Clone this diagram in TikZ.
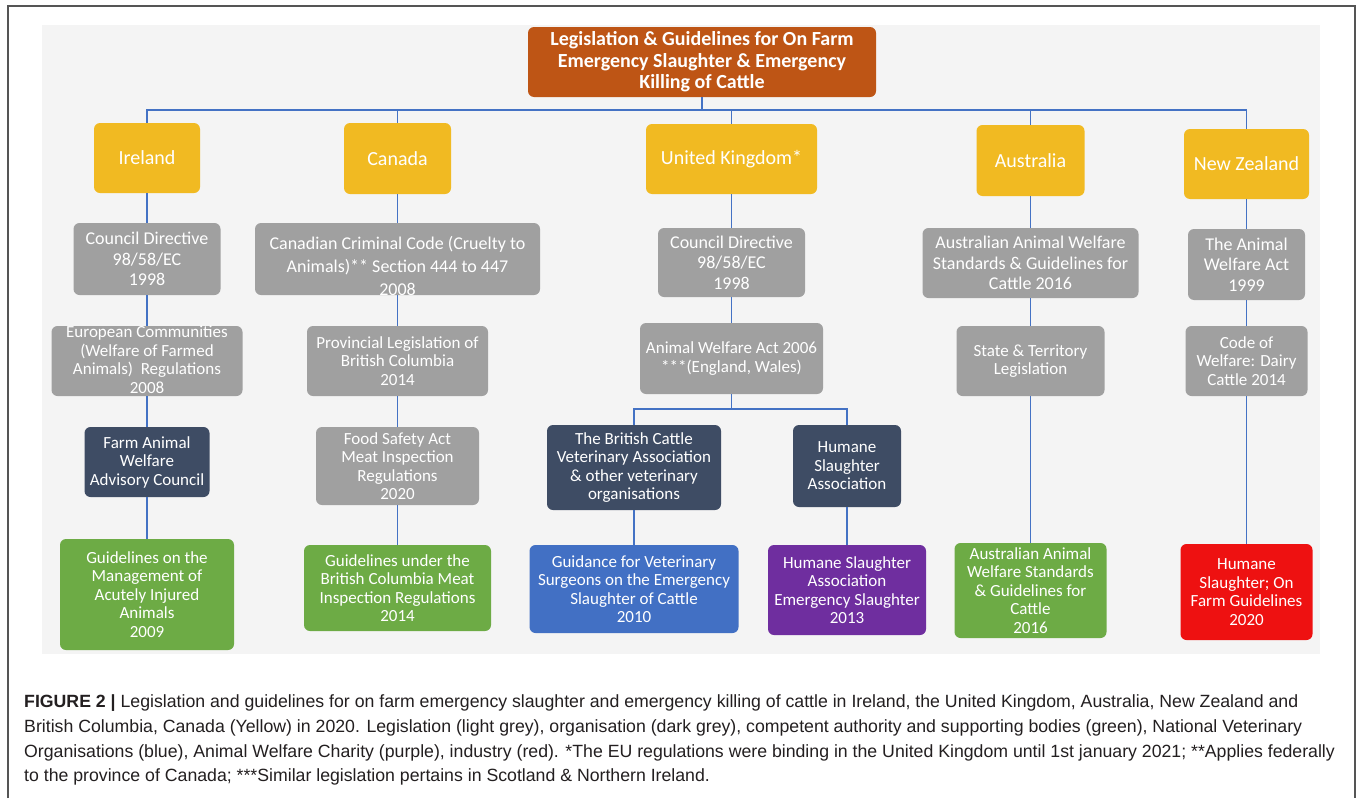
\documentclass[tikz,border=0pt]{standalone}
\usepackage{fontspec}
\setmainfont{Carlito}
\newfontfamily\capfont{Liberation Sans}
\definecolor{panelbg}{HTML}{F4F4F4}
\definecolor{frameC}{HTML}{555555}
\definecolor{titleC}{HTML}{BE5515}
\definecolor{yellowC}{HTML}{F1BA22}
\definecolor{greyC}{HTML}{A0A0A0}
\definecolor{darkC}{HTML}{3E4C64}
\definecolor{greenC}{HTML}{6DAB45}
\definecolor{blueC}{HTML}{4270C4}
\definecolor{purpleC}{HTML}{6F2E9F}
\definecolor{redC}{HTML}{EE1111}
\definecolor{lineC}{HTML}{4472C4}
\definecolor{capC}{HTML}{231F20}
\newcommand\mybox[3]{\parbox[c][#2][c]{#1}{\centering #3\par}}
\tikzset{
  basebox/.style={rounded corners=6pt, inner sep=0pt, text=white},
  titlebox/.style={basebox, fill=titleC, font=\fontsize{20}{21.5}\selectfont\bfseries},
  country/.style={basebox, fill=yellowC, font=\fontsize{20}{22}\selectfont},
  legA/.style={basebox, fill=greyC, font=\fontsize{18}{20.5}\selectfont},
  leg/.style={basebox, fill=greyC, font=\fontsize{17}{18.5}\selectfont},
  org/.style={basebox, fill=darkC, font=\fontsize{17}{18.5}\selectfont},
  green/.style={basebox, fill=greenC, font=\fontsize{17}{18.5}\selectfont},
  vet/.style={basebox, fill=blueC, font=\fontsize{17}{18.5}\selectfont},
  charity/.style={basebox, fill=purpleC, font=\fontsize{17}{18.5}\selectfont},
  industry/.style={basebox, fill=redC, font=\fontsize{17}{18.5}\selectfont},
  conn/.style={draw=lineC, line width=1.2pt},
}
\begin{document}
\begin{tikzpicture}[x=1pt, y=-1pt]
\useasboundingbox (0,0) rectangle (1357,798);
\fill[white] (0,0) rectangle (1357,798);
\fill[panelbg] (42,25) rectangle (1320,654);
\draw[frameC, line width=1.5pt] (8,798) -- (8,6) -- (1355,6) -- (1355,798);

% title
\node[titlebox] (title) at (702,62) {\mybox{348pt}{70pt}{Legislation \& Guidelines for On Farm\\Emergency Slaughter \& Emergency\\Killing of Cattle}};

% countries
\node[country] (ire) at (147,158) {\mybox{106pt}{70pt}{Ireland}};
\node[country] (can) at (397.5,158.5) {\mybox{107pt}{71pt}{Canada}};
\node[country] (uk) at (731.5,159) {\mybox{171pt}{70pt}{United Kingdom*}};
\node[country] (aus) at (1030.5,160.5) {\mybox{108pt}{71pt}{Australia}};
\node[country] (nz) at (1246.5,164) {\mybox{125pt}{70pt}{New Zealand}};

% level 2
\node[legA] (ire2) at (147,259) {\mybox{147pt}{72pt}{Council Directive\\98/58/EC\\1998}};
\node[legA, font=\fontsize{18}{23}\selectfont] (can2) at (397.5,259) {\mybox{285pt}{72pt}{\vspace*{14pt}Canadian Criminal Code (Cruelty to\\Animals)** Section 444 to 447\\2008}};
\node[legA] (uk2) at (731.5,262.5) {\mybox{147pt}{69pt}{Council Directive\\98/58/EC\\1998}};
\node[legA] (aus2) at (1030.5,263) {\mybox{216pt}{70pt}{Australian Animal Welfare\\Standards \& Guidelines for\\Cattle 2016}};
\node[legA] (nz2) at (1246.5,264.5) {\mybox{117pt}{71pt}{The Animal\\Welfare Act\\1999}};

% level 3
\node[leg] (ire3) at (147,361) {\mybox{191pt}{70pt}{\vspace*{-3pt}European Communities\\(Welfare of Farmed\\Animals)\ \ Regulations\\2008}};
\node[leg] (can3) at (397.5,361) {\mybox{181pt}{70pt}{Provincial Legislation of\\British Columbia\\2014}};
\node[leg] (uk3) at (731.5,358.5) {\mybox{183pt}{71pt}{Animal Welfare Act 2006\\\relax***(England, Wales)}};
\node[leg] (aus3) at (1030.5,361) {\mybox{148pt}{70pt}{State \& Territory\\Legislation}};
\node[leg] (nz3) at (1246.5,361) {\mybox{122pt}{70pt}{Code of\\Welfare: Dairy\\Cattle 2014}};

% level 4
\node[org] (ire4) at (147,462) {\mybox{125pt}{70pt}{Farm Animal\\Welfare\\Advisory Council}};
\node[leg] (can4) at (397.5,466) {\mybox{163pt}{78pt}{Food Safety Act\\Meat Inspection\\Regulations\\2020}};
\node[org] (bcva) at (634,467.5) {\mybox{174pt}{85pt}{The British Cattle\\Veterinary Association\\\& other veterinary\\organisations}};
\node[org] (hsa) at (847,466) {\mybox{108pt}{82pt}{Humane\\Slaughter\\Association}};

% level 5
\node[green] (ire5) at (147,594.5) {\mybox{174pt}{111pt}{Guidelines on the\\Management of\\Acutely Injured\\Animals\\2009}};
\node[green] (can5) at (397.5,588) {\mybox{187pt}{86pt}{Guidelines under the\\British Columbia Meat\\Inspection Regulations\\2014}};
\node[vet] (uk5) at (634,589) {\mybox{209pt}{88pt}{Guidance for Veterinary\\Surgeons on the Emergency\\Slaughter of Cattle\\2010}};
\node[charity] (hsa5) at (847,590) {\mybox{158pt}{90pt}{Humane Slaughter\\Association\\Emergency Slaughter\\2013}};
\node[green] (aus5) at (1030.5,590.5) {\mybox{152pt}{95pt}{Australian Animal\\Welfare Standards\\\& Guidelines for\\Cattle\\2016}};
\node[industry] (nz5) at (1246.5,592) {\mybox{132pt}{96pt}{Humane\\Slaughter; On\\Farm Guidelines\\2020}};

% connectors
\coordinate (bus) at (0,110);
\coordinate (ukbus) at (0,409);
\foreach \c in {ire,can,uk,aus,nz}
  \draw[conn] (title.south) |- (bus -| \c.north) -- (\c.north);
\foreach \a/\b in {ire/ire2,ire2/ire3,ire3/ire4,ire4/ire5,
                   can/can2,can2/can3,can3/can4,can4/can5,
                   uk/uk2,uk2/uk3,bcva/uk5,hsa/hsa5,
                   aus/aus2,aus2/aus3,aus3/aus5,
                   nz/nz2,nz2/nz3,nz3/nz5}
  \draw[conn] (\a) -- (\b);
\foreach \c in {bcva,hsa}
  \draw[conn] (uk3.south) |- (ukbus -| \c.north) -- (\c.north);

% caption
\node[anchor=north west, inner sep=0pt, align=left, text=capC,
      font=\capfont\fontsize{17.7}{24.8}\selectfont] (caption) at (24,694.5)
{\textbf{FIGURE 2 |} Legislation and guidelines for on farm emergency slaughter and emergency killing of cattle in Ireland, the United Kingdom, Australia, New Zealand and\\
British Columbia, Canada (Yellow) in 2020. Legislation (light grey), organisation (dark grey), competent authority and supporting bodies (green), National Veterinary\\
Organisations (blue), Animal Welfare Charity (purple), industry (red). *The EU regulations were binding in the United Kingdom until 1st january 2021; **Applies federally\\
to the province of Canada; ***Similar legislation pertains in Scotland \& Northern Ireland.};
\end{tikzpicture}
\end{document}
